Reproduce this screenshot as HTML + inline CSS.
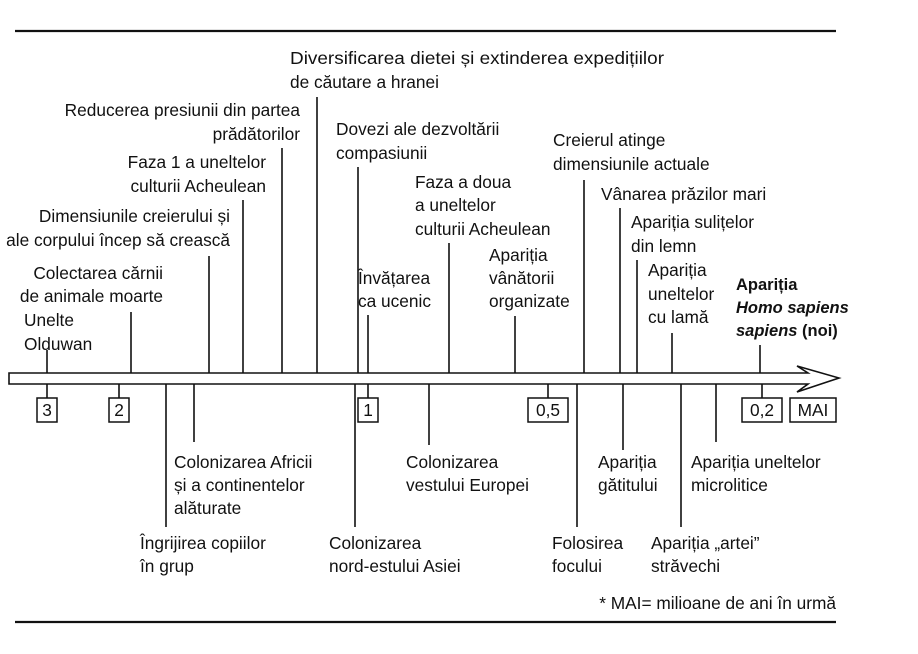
<!DOCTYPE html>
<html><head><meta charset="utf-8"><style>
html,body{margin:0;padding:0;background:#fff;}
svg{display:block;}
text{font-family:"Liberation Sans",sans-serif;font-size:17.3px;fill:#111;}
</style></head><body>
<svg width="918" height="654" viewBox="0 0 918 654" xmlns="http://www.w3.org/2000/svg">
<g stroke="#111" stroke-width="2.2" fill="none">
<line x1="15" y1="31" x2="836" y2="31"/>
<line x1="15" y1="622" x2="836" y2="622"/>
</g>
<path d="M9 373 H808 L797 366 L839 378 L797 392 L808 384 H9 Z" fill="#fff" stroke="#111" stroke-width="1.6"/>
<g stroke="#111" stroke-width="1.6">
<line x1="47" y1="350" x2="47" y2="373"/>
<line x1="131" y1="312" x2="131" y2="373"/>
<line x1="209" y1="256" x2="209" y2="373"/>
<line x1="243" y1="200" x2="243" y2="373"/>
<line x1="282" y1="148" x2="282" y2="373"/>
<line x1="317" y1="97" x2="317" y2="373"/>
<line x1="358" y1="167" x2="358" y2="373"/>
<line x1="368" y1="315" x2="368" y2="373"/>
<line x1="449" y1="243" x2="449" y2="373"/>
<line x1="515" y1="316" x2="515" y2="373"/>
<line x1="584" y1="180" x2="584" y2="373"/>
<line x1="620" y1="208" x2="620" y2="373"/>
<line x1="637" y1="260" x2="637" y2="373"/>
<line x1="672" y1="333" x2="672" y2="373"/>
<line x1="760" y1="345" x2="760" y2="373"/>
<line x1="47" y1="384" x2="47" y2="398"/>
<line x1="119" y1="384" x2="119" y2="398"/>
<line x1="166" y1="384" x2="166" y2="527"/>
<line x1="194" y1="384" x2="194" y2="442"/>
<line x1="355" y1="384" x2="355" y2="527"/>
<line x1="368" y1="384" x2="368" y2="398"/>
<line x1="429" y1="384" x2="429" y2="445"/>
<line x1="548" y1="384" x2="548" y2="398"/>
<line x1="577" y1="384" x2="577" y2="527"/>
<line x1="623" y1="384" x2="623" y2="450"/>
<line x1="681" y1="384" x2="681" y2="527"/>
<line x1="716" y1="384" x2="716" y2="442"/>
<line x1="762" y1="384" x2="762" y2="398"/>
</g>
<g stroke="#111" stroke-width="1.5" fill="#fff">
<rect x="37" y="398" width="20" height="24"/>
<rect x="109" y="398" width="20" height="24"/>
<rect x="358" y="398" width="20" height="24"/>
<rect x="528" y="398" width="40" height="24"/>
<rect x="742" y="398" width="40" height="24"/>
<rect x="790" y="398" width="46" height="24"/>
</g>
<g text-anchor="middle">
<text x="47" y="416">3</text>
<text x="119" y="416">2</text>
<text x="368" y="416">1</text>
<text x="548" y="416">0,5</text>
<text x="762" y="416">0,2</text>
<text x="813" y="416">MAI</text>
</g>
<text x="290" y="64" textLength="374" lengthAdjust="spacingAndGlyphs">Diversificarea dietei și extinderea expedițiilor</text>
<text x="290" y="88">de căutare a hranei</text>
<g text-anchor="end">
<text x="300" y="116">Reducerea presiunii din partea</text>
<text x="300" y="140">prădătorilor</text>
<text x="266" y="168">Faza 1 a uneltelor</text>
<text x="266" y="192">culturii Acheulean</text>
<text x="230" y="222">Dimensiunile creierului și</text>
<text x="230" y="246">ale corpului încep să crească</text>
<text x="163" y="279">Colectarea cărnii</text>
<text x="163" y="302">de animale moarte</text>
</g>
<text x="24" y="326">Unelte</text>
<text x="24" y="350">Olduwan</text>
<text x="336" y="135">Dovezi ale dezvoltării</text>
<text x="336" y="159">compasiunii</text>
<text x="415" y="188">Faza a doua</text>
<text x="415" y="211">a uneltelor</text>
<text x="415" y="235">culturii Acheulean</text>
<text x="358" y="284">Învățarea</text>
<text x="358" y="307">ca ucenic</text>
<text x="489" y="261">Apariția</text>
<text x="489" y="284">vânătorii</text>
<text x="489" y="307">organizate</text>
<text x="553" y="146">Creierul atinge</text>
<text x="553" y="170">dimensiunile actuale</text>
<text x="601" y="200">Vânarea prăzilor mari</text>
<text x="631" y="228">Apariția sulițelor</text>
<text x="631" y="252">din lemn</text>
<text x="648" y="276">Apariția</text>
<text x="648" y="300">uneltelor</text>
<text x="648" y="323">cu lamă</text>
<text x="736" y="290" font-weight="bold" style="font-size:16.5px">Apariția</text>
<text x="736" y="313" font-weight="bold" font-style="italic" style="font-size:16.5px">Homo sapiens</text>
<text x="736" y="336" font-weight="bold" style="font-size:16.5px"><tspan font-style="italic">sapiens</tspan> (noi)</text>
<text x="174" y="468">Colonizarea Africii</text>
<text x="174" y="491">și a continentelor</text>
<text x="174" y="514">alăturate</text>
<text x="406" y="468">Colonizarea</text>
<text x="406" y="491">vestului Europei</text>
<text x="598" y="468">Apariția</text>
<text x="598" y="491">gătitului</text>
<text x="691" y="468">Apariția uneltelor</text>
<text x="691" y="491">microlitice</text>
<text x="140" y="549">Îngrijirea copiilor</text>
<text x="140" y="572">în grup</text>
<text x="329" y="549">Colonizarea</text>
<text x="329" y="572">nord-estului Asiei</text>
<text x="552" y="549">Folosirea</text>
<text x="552" y="572">focului</text>
<text x="651" y="549">Apariția „artei”</text>
<text x="651" y="572">străvechi</text>
<text x="836" y="609" text-anchor="end">*  MAI= milioane de ani în urmă</text>
</svg>
</body></html>
